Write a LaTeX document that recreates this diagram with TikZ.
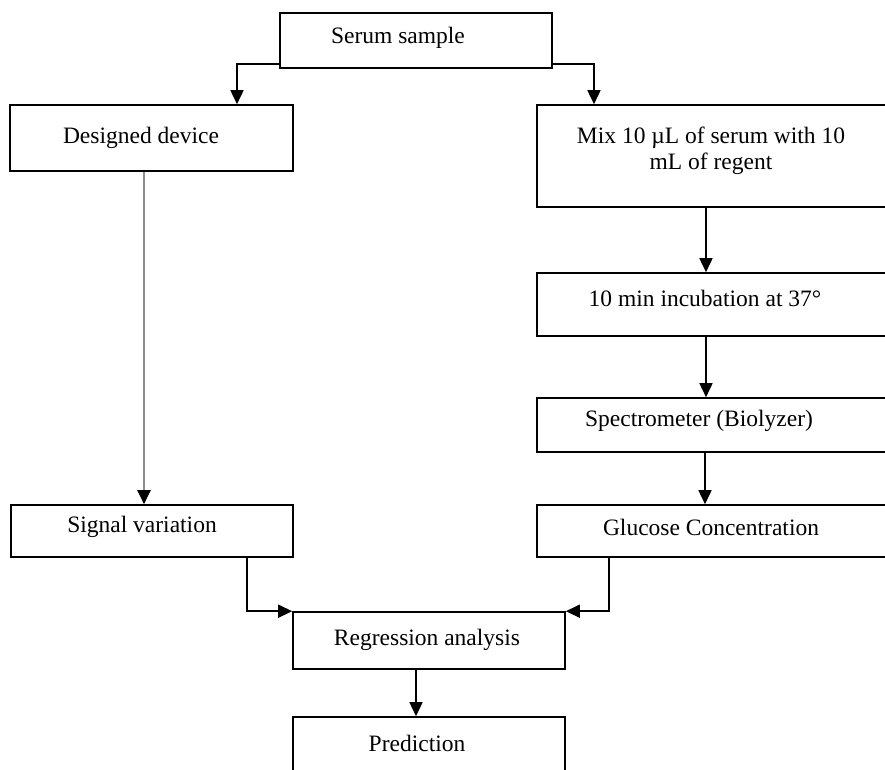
\documentclass[tikz,border=0pt]{standalone}
\usepackage{fontspec}
\setmainfont{Liberation Serif}
\usetikzlibrary{arrows.meta}
\begin{document}
\begin{tikzpicture}[x=1pt,y=-1pt,
  box/.style={draw=black,line width=1.6pt,rectangle,inner sep=0pt},
  txt/.style={inner sep=0pt,font=\fontsize{23.5}{26}\selectfont,align=center},
  arr/.style={line width=1.6pt,-{Triangle[length=14pt,width=13pt]}},
  garr/.style={line width=2pt,draw={rgb,255:red,140;green,140;blue,140},-{Triangle[length=14pt,width=13pt,color=black]}}]
\clip (0,0) rectangle (885,770);
\useasboundingbox (0,0) rectangle (885,770);
% boxes
\node[box,minimum width=272pt,minimum height=55pt] (serum) at (416,40.5) {};
\node[box,minimum width=283pt,minimum height=66pt] (dev) at (151.5,138) {};
\node[box,minimum width=352pt,minimum height=102pt] (mix) at (713,156) {};
\node[box,minimum width=352pt,minimum height=63pt] (inc) at (713,304.5) {};
\node[box,minimum width=352pt,minimum height=54pt] (spec) at (713,425) {};
\node[box,minimum width=352pt,minimum height=52pt] (glu) at (713,531) {};
\node[box,minimum width=282pt,minimum height=52pt] (sig) at (152,531) {};
\node[box,minimum width=272pt,minimum height=57pt] (reg) at (429,640.5) {};
\node[box,minimum width=272pt,minimum height=80pt] (pred) at (429,757) {};
% texts
\node[txt] (tserum) at (398,38) {Serum sample};
\node[txt] (tdev) at (141,138) {Designed device};
\node[txt] (tmix) at (711,151) {Mix 10 µL of serum with 10\\mL of regent};
\node[txt] (tinc) at (705,298) {10 min incubation at 37°};
\node[txt] (tspec) at (699,421) {Spectrometer (Biolyzer)};
\node[txt] (tglu) at (711,527) {Glucose Concentration};
\node[txt] (tsig) at (142,527) {Signal variation};
\node[txt] (treg) at (427,640) {Regression analysis};
\node[txt] (tpred) at (417,743) {Prediction};
% connectors
\draw[arr] ([yshift=5pt]serum.south west) -| (dev.north -| 237,0);
\draw[arr] ([yshift=5pt]serum.south east) -| (mix.north -| 594,0);
\draw[arr] (mix.south -| 706,0) -- (inc.north -| 706,0);
\draw[arr] (inc.south -| 706,0) -- (spec.north -| 706,0);
\draw[arr] (spec.south -| 705,0) -- (glu.north -| 705,0);
\draw[garr] (dev.south -| 144,0) -- (sig.north -| 144,0);
\draw[arr] (sig.south -| 247,0) |- (reg.north west);
\draw[arr] (glu.south -| 609,0) |- (reg.north east);
\draw[arr] (reg.south -| 416,0) -- (pred.north -| 416,0);
\end{tikzpicture}
\end{document}
